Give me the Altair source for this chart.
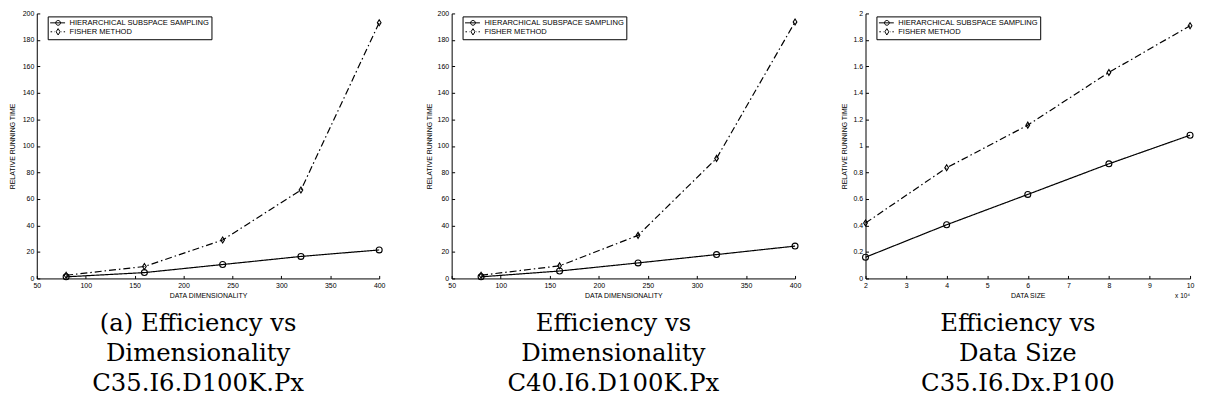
import altair as alt
import pandas as pd

SERIES = ["HIERARCHICAL SUBSPACE SAMPLING", "FISHER METHOD"]

# Panel (a): C35.I6.D100K.Px
dim_x = [80, 160, 240, 320, 400]
a_hss = [1.2, 4.4, 10.5, 16.6, 21.5]
a_fisher = [2.4, 9.0, 29.0, 66.7, 193.0]

# Panel (b): C40.I6.D100K.Px
b_hss = [1.2, 5.6, 11.7, 18.0, 24.4]
b_fisher = [2.4, 9.5, 32.5, 90.6, 193.6]

# Panel (c): C35.I6.Dx.P100
size_x = [20000, 40000, 60000, 80000, 100000]
c_hss = [0.16, 0.405, 0.634, 0.865, 1.081]
c_fisher = [0.418, 0.835, 1.157, 1.555, 1.907]

dim_ticks = [50, 100, 150, 200, 250, 300, 350, 400]
time_ticks = [0, 20, 40, 60, 80, 100, 120, 140, 160, 180, 200]
size_ticks = [20000, 30000, 40000, 50000, 60000, 70000, 80000, 90000, 100000]
rel_ticks = [0, 0.2, 0.4, 0.6, 0.8, 1, 1.2, 1.4, 1.6, 1.8, 2]

captions = [
    ["(a) Efficiency vs", "Dimensionality", "C35.I6.D100K.Px"],
    ["Efficiency vs", "Dimensionality", "C40.I6.D100K.Px"],
    ["Efficiency vs", "Data Size", "C35.I6.Dx.P100"],
]

FONT = "Liberation Sans"
SERIF = "DejaVu Serif"

DIAMOND = "M0,-1L0.62,0L0,1L-0.62,0Z"
LEG_HSS = "M-1,0H2.75M1.6,0A0.6,0.6 0 1 1 0.4,0A0.6,0.6 0 1 1 1.6,0"
LEG_FISHER = ("M-0.9,0H-0.5M0.05,0H0.15M1.85,0H1.95M2.4,0H2.75"
              "M1,-0.8L1.5,0L1,0.8L0.5,0Z")


def panel(xs, hss, fisher, xtitle, xdom, xticks, ydom, yticks, caption,
          width, height, xlabel_expr=None, title_pad=5, note=None):
    rows = []
    for s, ys in zip(SERIES, [hss, fisher]):
        for xv, yv in zip(xs, ys):
            rows.append({"x": xv, "y": yv, "series": s})
    df = pd.DataFrame(rows)

    common = dict(
        grid=True, gridColor="black", gridOpacity=1,
        gridWidth=1, ticks=False, domainColor="black", domainWidth=1,
        labelFont=FONT, labelFontSize=7, labelColor="black", labelPadding=3,
        titleFont=FONT, titleFontSize=7, titleFontWeight="normal",
        titleColor="black", labelFlush=False, labelOverlap=False,
    )
    ax_x = dict(common, values=xticks, title=xtitle, titlePadding=3,
                gridDash=[0, height - 3, 3, 2000])
    if xlabel_expr:
        ax_x["labelExpr"] = xlabel_expr
    ax_y = dict(common, values=yticks, format="~r", gridDash=[3, 2000],
                title="RELATIVE RUNNING TIME", titlePadding=title_pad)

    x = alt.X("x:Q", scale=alt.Scale(domain=xdom, nice=False, zero=False),
              axis=alt.Axis(**ax_x))
    y = alt.Y("y:Q", scale=alt.Scale(domain=ydom, nice=False, zero=False),
              axis=alt.Axis(**ax_y))

    base = alt.Chart(df)
    line = base.mark_line(color="black", strokeWidth=1.2).encode(
        x=x, y=y,
        strokeDash=alt.StrokeDash(
            "series:N",
            scale=alt.Scale(domain=SERIES, range=[[1, 0], [7, 3, 1.5, 3]]),
            legend=None),
    )
    pts = base.mark_point(filled=False, color="black", strokeWidth=1.1,
                          opacity=1, size=36).encode(
        x=x, y=y,
        shape=alt.Shape("series:N",
                        scale=alt.Scale(domain=SERIES, range=["circle", DIAMOND]),
                        legend=None),
    )
    leg = base.mark_point(filled=False, color="black", opacity=0).encode(
        x=x, y=y,
        shape=alt.Shape(
            "series:N",
            scale=alt.Scale(domain=SERIES, range=[LEG_HSS, LEG_FISHER]),
            legend=alt.Legend(
                title=None, orient="none", legendX=11, legendY=3,
                strokeColor="black", fillColor="white", padding=2,
                symbolSize=64, symbolStrokeWidth=1, symbolStrokeColor="black",
                symbolOpacity=1, labelFont=FONT, labelFontSize=7.6,
                labelColor="black", labelOffset=11, rowPadding=-2,
                labelLimit=400,
            ),
        ),
    )
    layers = [line, pts, leg]
    for i, txt in enumerate(caption):
        layers.append(
            alt.Chart(pd.DataFrame({"t": [txt]})).mark_text(
                font=SERIF, fontSize=24.5, align="center",
                baseline="alphabetic", color="black",
            ).encode(x=alt.value(width / 2 - 10),
                     y=alt.value(height + 53 + 30 * i), text="t:N")
        )
    if note:
        nd = pd.DataFrame({"t": [note]})
        layers.append(
            alt.Chart(nd).mark_text(font=FONT, fontSize=6.5, align="right",
                                    baseline="middle", color="black").encode(
                x=alt.value(width), y=alt.value(height + 18), text="t:N")
        )
    return alt.layer(*layers).resolve_scale(shape="independent").properties(
        width=width, height=height)


H = 267
p1 = panel(dim_x, a_hss, a_fisher, "DATA DIMENSIONALITY", [50, 400], dim_ticks,
           [0, 200], time_ticks, captions[0], 345, H, title_pad=7)
p2 = panel(dim_x, b_hss, b_fisher, "DATA DIMENSIONALITY", [50, 400], dim_ticks,
           [0, 200], time_ticks, captions[1], 346, H)
p3 = panel(size_x, c_hss, c_fisher, "DATA SIZE", [20000, 100000], size_ticks,
           [0, 2], rel_ticks, captions[2], 327, H,
           xlabel_expr="format(datum.value / 10000, '~r')", note="x 10\u2074")

chart = alt.hconcat(p1, p2, p3, spacing=38).properties(
    padding=0, background="white"
).configure_view(stroke=None)

chart.save("out.html", embed_options={"renderer": "svg", "actions": False})
